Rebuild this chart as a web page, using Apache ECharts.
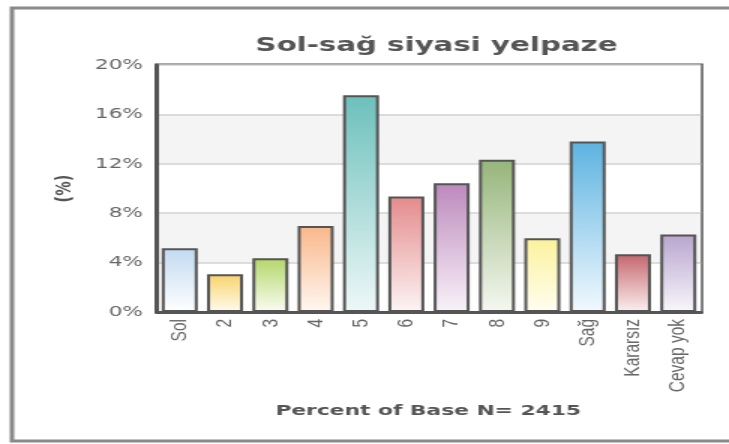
<!DOCTYPE html>
<html><head><meta charset="utf-8">
<script src="https://cdn.jsdelivr.net/npm/echarts@6/dist/echarts.min.js"></script>
<style>
html,body{margin:0;padding:0;background:#fff;overflow:hidden;width:729px;height:444px}
#c{width:486px;height:444px;transform:scaleX(1.5);transform-origin:0 0}
</style>
</head><body><div id="c"></div>
<script>
// The reference picture is stretched horizontally by 1.5; the chart is drawn at 486px wide and stretched by CSS.
const categories = ['Sol','2','3','4','5','6','7','8','9','Sağ','Kararsız','Cevap yok'];
const values = [5.16, 3.06, 4.35, 6.96, 17.56, 9.35, 10.42, 12.33, 5.98, 13.8, 4.67, 6.28];
const topColors = ['#c3daf1','#f8d46c','#b3d769','#f9b88a','#6cc0bb','#e48b8c','#bd89bd','#96b57a','#fbf29b','#5db3e1','#c5666d','#b8a5ce'];
const bottomColors = ['#ffffff','#fffbf0','#fbfdf2','#fff7f2','#eef8f8','#fdf4f4','#f9f3f9','#f5f8f1','#fffef2','#f2f9fe','#fbf1f1','#f9f7fc'];
const yTicks = [0, 4, 8, 12, 16, 20];

const chart = echarts.init(document.getElementById('c'), null, {width: 486, height: 444});
const data = values.map((v, i) => ({
  value: v,
  itemStyle: {
    color: new echarts.graphic.LinearGradient(0, 0, 0, 1, [
      {offset: 0, color: topColors[i]},
      {offset: 1, color: bottomColors[i]}
    ])
  }
}));
chart.setOption({
  animation: false,
  backgroundColor: '#fff',
  title: {
    text: 'Sol-sağ siyasi yelpaze',
    left: 286, top: 31, textAlign: 'center',
    textStyle: {fontFamily: 'DejaVu Sans', fontWeight: 'bold', fontSize: 19.5, color: '#555'}
  },
  graphic: [
    {type: 'rect', shape: {x: 8, y: 8, width: 520, height: 433}, style: {fill: 'none', stroke: '#8a8a8a', lineWidth: 3}, silent: true},
    {type: 'text', style: {text: 'Percent of Base N= 2415', x: 285.5, y: 411, textAlign: 'center', textVerticalAlign: 'middle', font: 'bold 14.5px "DejaVu Sans"', fill: '#555'}}
  ],
  grid: {left: 104.7, right: 18.7, top: 65, bottom: 132, show: true, borderColor: '#555', borderWidth: 3, backgroundColor: 'transparent'},
  xAxis: {
    type: 'category', data: categories,
    axisLine: {lineStyle: {color: '#555', width: 3}},
    axisTick: {show: false},
    axisLabel: {rotate: 90, margin: 7, fontFamily: '"Liberation Sans", Arial, sans-serif', fontSize: 15.5, color: '#666'}
  },
  yAxis: {
    type: 'value', min: yTicks[0], max: yTicks[yTicks.length - 1], interval: 4,
    name: '(%)', nameLocation: 'middle', nameGap: 54, nameRotate: 90,
    nameTextStyle: {fontFamily: 'DejaVu Sans', fontWeight: 'bold', fontSize: 14.5, color: '#555'},
    axisLine: {show: true, lineStyle: {color: '#555', width: 3}},
    axisTick: {show: false},
    axisLabel: {formatter: '{value}%', margin: 9.3, fontFamily: 'DejaVu Sans', fontSize: 14.5, color: '#666'},
    splitLine: {lineStyle: {color: '#d2d2d2', width: 1.5}},
    splitArea: {show: true, areaStyle: {color: ['#ffffff', '#f4f4f4']}}
  },
  series: [{
    type: 'bar', data: data, barWidth: 24,
    itemStyle: {borderColor: '#555', borderWidth: 2}
  }]
});
</script></body></html>
